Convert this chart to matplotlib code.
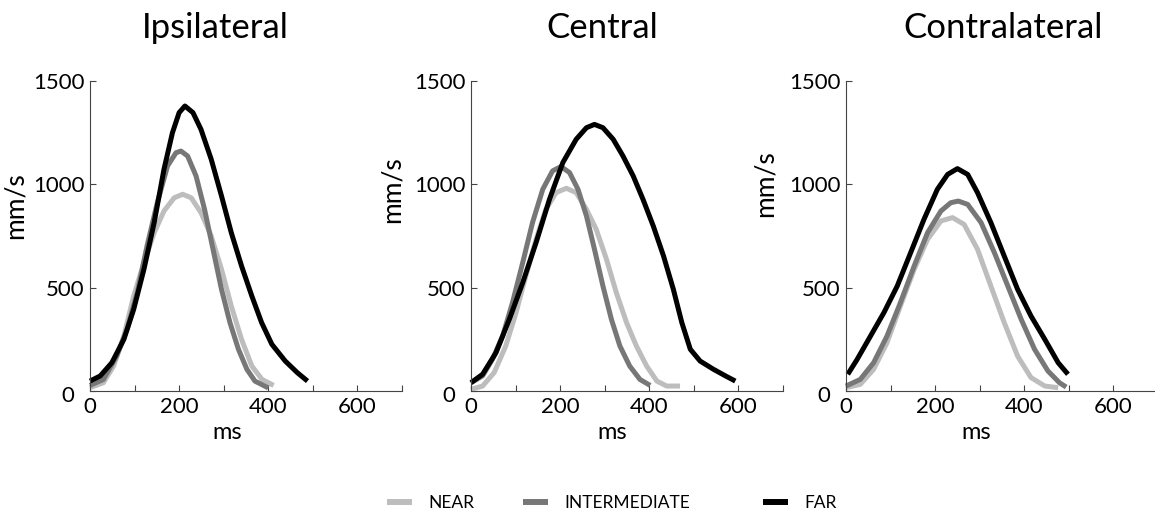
import matplotlib
matplotlib.use('Agg')
import matplotlib.pyplot as plt
import matplotlib.transforms as mtransforms
from matplotlib.lines import Line2D

plt.rcParams['font.family'] = ['Lato', 'DejaVu Sans']

titles = ['Ipsilateral', 'Central', 'Contralateral']
labels = ['NEAR', 'INTERMEDIATE', 'FAR']
colors = ['#bdbdbd', '#777777', '#000000']

# Ipsilateral
ipsi_near_x = [0, 30, 53, 76, 98, 121, 144, 166, 189, 208, 227, 249, 272, 295, 317, 340, 363, 386, 412]
ipsi_near_y = [16, 40, 121, 266, 460, 621, 766, 871, 935, 952, 935, 863, 750, 589, 411, 250, 121, 56, 27]
ipsi_mid_x = [0, 30, 60, 83, 106, 128, 151, 174, 193, 204, 219, 238, 257, 276, 295, 314, 333, 352, 370, 400]
ipsi_mid_y = [27, 56, 170, 298, 476, 702, 911, 1089, 1153, 1161, 1137, 1040, 879, 686, 492, 331, 202, 105, 48, 15]
ipsi_far_x = [0, 23, 49, 76, 98, 121, 144, 166, 185, 200, 213, 231, 249, 272, 295, 317, 340, 363, 385, 408, 438, 465, 488]
ipsi_far_y = [48, 73, 137, 250, 395, 589, 815, 1073, 1250, 1347, 1379, 1347, 1266, 1121, 944, 766, 605, 460, 331, 226, 145, 89, 48]

# Central
cent_near_x = [0, 26, 52, 78, 101, 123, 146, 168, 191, 214, 236, 259, 281, 304, 326, 349, 371, 394, 417, 439, 469]
cent_near_y = [8, 24, 89, 218, 379, 556, 734, 879, 960, 981, 960, 879, 782, 637, 476, 331, 218, 121, 48, 24, 24]
cent_mid_x = [0, 26, 48, 71, 93, 116, 138, 161, 183, 202, 221, 240, 259, 277, 296, 315, 334, 356, 379, 402]
cent_mid_y = [40, 73, 153, 266, 427, 621, 815, 976, 1065, 1086, 1057, 976, 847, 686, 508, 347, 218, 121, 56, 27]
cent_far_x = [0, 26, 56, 86, 116, 146, 176, 206, 236, 259, 277, 296, 319, 341, 364, 386, 409, 432, 454, 473, 492, 514, 544, 571, 593]
cent_far_y = [40, 81, 185, 347, 524, 718, 927, 1105, 1218, 1274, 1290, 1274, 1218, 1137, 1040, 927, 798, 653, 492, 331, 202, 145, 105, 73, 48]

# Contralateral
cont_near_x = [0, 32, 62, 92, 122, 153, 183, 213, 239, 265, 295, 325, 355, 385, 415, 446, 476]
cont_near_y = [16, 32, 105, 234, 411, 589, 734, 823, 839, 806, 686, 508, 331, 169, 65, 24, 16]
cont_mid_x = [0, 32, 62, 92, 122, 153, 183, 213, 235, 252, 273, 303, 333, 363, 393, 423, 453, 479, 494]
cont_mid_y = [24, 56, 137, 266, 427, 605, 766, 871, 911, 919, 903, 815, 669, 508, 347, 202, 97, 40, 19]
cont_far_x = [4, 25, 55, 85, 115, 145, 175, 205, 228, 250, 273, 295, 325, 355, 385, 415, 446, 476, 498]
cont_far_y = [81, 153, 266, 379, 508, 669, 831, 976, 1048, 1076, 1048, 960, 815, 653, 492, 363, 250, 137, 81]

panels = [
    [(ipsi_near_x, ipsi_near_y), (ipsi_mid_x, ipsi_mid_y), (ipsi_far_x, ipsi_far_y)],
    [(cent_near_x, cent_near_y), (cent_mid_x, cent_mid_y), (cent_far_x, cent_far_y)],
    [(cont_near_x, cont_near_y), (cont_mid_x, cont_mid_y), (cont_far_x, cont_far_y)],
]

W, H = 1155, 516
fig = plt.figure(figsize=(W / 100, H / 100), dpi=100)
lefts = [90, 471, 846]
title_x = [215, 602, 1003]
ylab_pos = [(-62 / 312, 0.597), (-66 / 312, 0.648), (-68 / 312, 0.67)]
xlab_pos = [(0.44, -0.1), (0.452, -0.1), (0.417, -0.1)]

for i in range(3):
    ax = fig.add_axes([lefts[i] / W, 125 / H, 312 / W, 310 / H])
    for (xs, ys), c in zip(panels[i], colors):
        ax.plot(xs, ys, color=c, lw=3.6, solid_capstyle='butt', solid_joinstyle='round', clip_on=False)
    ax.set_xlim(0, 700)
    ax.set_ylim(0, 1500)
    ax.set_xticks([0, 200, 400, 600])
    ax.set_xticks([100, 300, 500, 700], minor=True)
    ax.set_yticks([0, 500, 1000, 1500])
    ax.tick_params(direction='in', length=4, width=0.8, color='#444444', labelsize=16, pad=4)
    ax.tick_params(which='minor', direction='in', length=4, width=0.8, color='#444444')
    for s in ['top', 'right']:
        ax.spines[s].set_visible(False)
    for s in ['left', 'bottom']:
        ax.spines[s].set_color('#444444')
        ax.spines[s].set_linewidth(0.8)
    # the zero on the y axis sits a bit further left and lower
    zl = ax.get_yticklabels()[0]
    zl.set_transform(zl.get_transform() + mtransforms.ScaledTranslation(-10 / 100, -3 / 100, fig.dpi_scale_trans))
    ax.set_xlabel('ms', fontsize=17)
    ax.xaxis.set_label_coords(*xlab_pos[i])
    ax.set_ylabel('mm/s', fontsize=19)
    ax.yaxis.set_label_coords(*ylab_pos[i])
    fig.text(title_x[i] / W, 1 - 28 / H, titles[i], fontsize=25, ha='center', va='center')

# legend entries are spaced unevenly in the original, so one legend per entry
leg_x = [387, 523, 763]
for c, lab, lx in zip(colors, labels, leg_x):
    h = Line2D([], [], color=c, lw=4.3, solid_capstyle='butt')
    leg = fig.legend([h], [lab], loc='center left', bbox_to_anchor=(lx / W, 1 - 503 / H),
                     frameon=False, fontsize=12.5, handlelength=1.45, handletextpad=0.95,
                     borderpad=0, borderaxespad=0)

fig.savefig('out.png', dpi=100)
